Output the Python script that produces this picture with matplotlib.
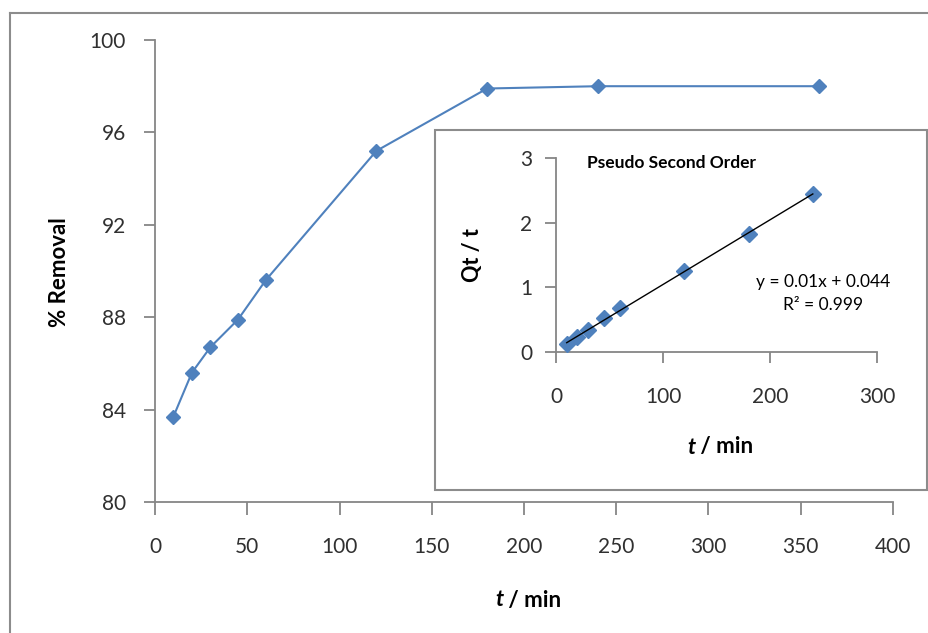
import matplotlib
matplotlib.use("Agg")
import matplotlib.pyplot as plt
from matplotlib.patches import Rectangle
from matplotlib.lines import Line2D

# Removal efficiency over contact time
time_min = [10, 20, 30, 45, 60, 120, 180, 240, 360]
removal_pct = [83.7, 85.6, 86.7, 87.9, 89.6, 95.2, 97.9, 98.0, 98.0]

# Pseudo-second-order linearised kinetics
kin_time = [10, 20, 30, 45, 60, 120, 180, 240]
kin_ratio = [0.13, 0.23, 0.34, 0.52, 0.68, 1.26, 1.83, 2.44]
fit_slope = 0.01
fit_intercept = 0.044
fit_r2 = 0.999

main_xticks = [0, 50, 100, 150, 200, 250, 300, 350, 400]
main_yticks = [80, 84, 88, 92, 96, 100]
inset_xticks = [0, 100, 200, 300]
inset_yticks = [0, 1, 2, 3]

plt.rcParams['font.family'] = ['Lato', 'DejaVu Sans']

BLUE = '#4F81BD'
GRID = '#868686'
TXT = '#303030'

W, H = 929, 633
fig = plt.figure(figsize=(W / 100, H / 100), dpi=100)


def fx(px):
    return px / W


def fy(py):
    return 1 - py / H


# outer chart frame (left and top edges visible)
fig.add_artist(Line2D([fx(10), fx(10)], [fy(13), 0], color='#8c8c8c', lw=1.5,
                      transform=fig.transFigure))
fig.add_artist(Line2D([fx(10), 1], [fy(13), fy(13)], color='#8c8c8c', lw=1.5,
                      transform=fig.transFigure))

# main axes
ax = fig.add_axes([fx(155), fy(502), fx(893) - fx(155), fy(40) - fy(502)])
ax.plot(time_min, removal_pct, color=BLUE, lw=1.5, marker='D', ms=7.5,
        mfc=BLUE, mec=BLUE, zorder=3)
ax.set_xlim(0, 400)
ax.set_ylim(80, 100)
ax.set_xticks(main_xticks)
ax.set_yticks(main_yticks)
for s in ['top', 'right']:
    ax.spines[s].set_visible(False)
for s in ['left', 'bottom']:
    ax.spines[s].set_color(GRID)
    ax.spines[s].set_linewidth(1.3)
ax.tick_params(axis='y', direction='out', length=8, width=1.3, color=GRID,
               labelsize=15, labelcolor=TXT, pad=13)
ax.tick_params(axis='x', direction='out', length=9, width=1.3, color=GRID,
               labelsize=15, labelcolor=TXT, pad=16)
ax.patch.set_visible(False)

fig.text(fx(60), fy(272), '% Removal', rotation=90, ha='center', va='center',
         fontsize=16, fontweight='bold', color='black')
fig.text(fx(503), fy(600), 't', ha='right', va='center', fontsize=16,
         fontweight='bold', style='italic', color='black')
fig.text(fx(503), fy(600), ' / min', ha='left', va='center', fontsize=16,
         fontweight='bold', color='black')

# inset panel background and border
fig.add_artist(Rectangle((fx(435), fy(490)), fx(927) - fx(435), fy(130) - fy(490),
                         transform=fig.transFigure, facecolor='white',
                         edgecolor='#8c8c8c', lw=1.5, zorder=2))

ins = fig.add_axes([fx(556), fy(352), fx(877) - fx(556), fy(158) - fy(352)], zorder=3)
ins.patch.set_visible(False)
x_fit = [kin_time[0], kin_time[-1]]
y_fit = [fit_slope * x + fit_intercept for x in x_fit]
ins.plot(kin_time, kin_ratio, linestyle='none', marker='D', ms=8.5,
         mfc=BLUE, mec=BLUE, zorder=3)
ins.plot(x_fit, y_fit, color='black', lw=1.0, zorder=4)
ins.set_xlim(0, 300)
ins.set_ylim(0, 3)
ins.set_xticks(inset_xticks)
ins.set_yticks(inset_yticks)
for s in ['top', 'right']:
    ins.spines[s].set_visible(False)
for s in ['left', 'bottom']:
    ins.spines[s].set_color(GRID)
    ins.spines[s].set_linewidth(1.3)
ins.tick_params(axis='y', direction='out', length=8, width=1.3, color=GRID,
                labelsize=15, labelcolor=TXT, pad=9)
ins.tick_params(axis='x', direction='out', length=8, width=1.3, color=GRID,
                labelsize=15, labelcolor=TXT, pad=17)

ins.text(29, 2.92, 'Pseudo Second Order', ha='left', va='center', fontsize=12.5,
         fontweight='bold', color='black')
ins.text(249.5, 1.08, f'y = {fit_slope}x + {fit_intercept}', ha='center',
         va='center', fontsize=12.5, color='black')
ins.text(249.5, 0.73, f'R² = {fit_r2}', ha='center', va='center', fontsize=12.5,
         color='black')

fig.text(fx(472), fy(255), 'Qt / t', rotation=90, ha='center', va='center',
         fontsize=15.5, fontweight='bold', color='black', zorder=5)
fig.text(fx(695), fy(447), 't', ha='right', va='center', fontsize=16,
         fontweight='bold', style='italic', color='black', zorder=5)
fig.text(fx(695), fy(447), ' / min', ha='left', va='center', fontsize=16,
         fontweight='bold', color='black', zorder=5)

fig.savefig('out.png', dpi=100)
